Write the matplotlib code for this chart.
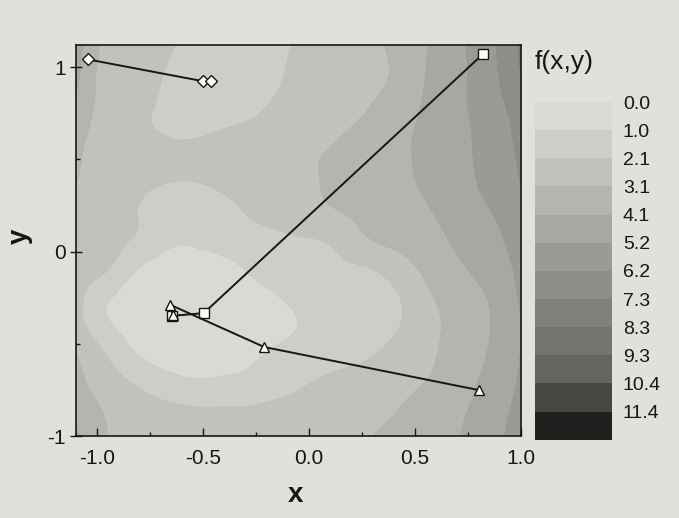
import numpy as np
import matplotlib
matplotlib.use('Agg')
import matplotlib.pyplot as plt
import matplotlib.tri as mtri

plt.rcParams['font.family'] = ['Liberation Sans', 'DejaVu Sans']
plt.rcParams['axes.unicode_minus'] = False

# f(x,y) on a coarse grid (rows = y, columns = x)
x_grid = [-1.1, -0.95, -0.8, -0.65, -0.5, -0.35, -0.2, -0.05, 0.1, 0.25, 0.4, 0.55, 0.7, 0.85, 1.0]
y_grid = [-1.0, -0.85, -0.7, -0.55, -0.4, -0.25, -0.1, 0.05, 0.2, 0.35, 0.5, 0.65, 0.8, 0.95, 1.12]
f_grid = [
    [4.30, 3.10, 2.80, 2.60, 2.50, 2.50, 2.60, 2.75, 2.90, 3.00, 3.35, 3.70, 4.10, 4.75, 5.70],
    [3.85, 2.95, 2.50, 2.25, 2.12, 2.12, 2.25, 2.45, 2.65, 2.85, 3.05, 3.50, 3.95, 4.60, 5.50],
    [3.40, 2.50, 1.85, 1.30, 1.10, 1.20, 1.45, 1.85, 2.25, 2.55, 2.80, 3.10, 3.70, 4.40, 5.30],
    [3.10, 1.95, 0.95, 0.55, 0.55, 0.75, 1.05, 1.35, 1.60, 1.85, 2.35, 2.85, 3.55, 4.20, 5.20],
    [2.50, 1.20, 0.50, 0.10, 0.15, 0.40, 0.70, 1.05, 1.35, 1.60, 1.95, 2.70, 3.45, 4.10, 5.15],
    [2.45, 1.15, 0.55, 0.20, 0.25, 0.50, 0.85, 1.25, 1.50, 1.70, 1.95, 2.85, 3.60, 4.20, 5.30],
    [2.50, 2.05, 0.95, 0.55, 0.60, 0.90, 1.30, 1.60, 1.80, 1.95, 2.45, 3.30, 3.95, 4.55, 5.40],
    [2.65, 2.30, 1.85, 1.15, 1.20, 1.40, 1.65, 1.90, 2.15, 2.85, 3.30, 3.65, 4.30, 4.85, 5.60],
    [2.90, 2.35, 2.05, 1.60, 1.60, 1.90, 2.35, 2.70, 2.95, 3.30, 3.70, 4.00, 4.60, 5.10, 5.90],
    [3.10, 2.55, 2.20, 2.00, 2.03, 2.25, 2.55, 2.90, 3.20, 3.50, 3.85, 4.25, 4.80, 5.40, 6.20],
    [3.25, 2.60, 2.35, 2.25, 2.25, 2.40, 2.65, 2.95, 3.20, 3.55, 3.90, 4.35, 4.90, 5.50, 6.35],
    [3.50, 2.60, 2.20, 2.00, 2.00, 2.20, 2.40, 2.70, 2.95, 3.30, 3.80, 4.35, 4.90, 5.60, 6.50],
    [3.90, 2.65, 2.20, 1.90, 1.60, 1.65, 2.05, 2.45, 2.75, 3.00, 3.50, 4.25, 4.95, 5.75, 6.70],
    [4.40, 2.60, 2.25, 1.95, 1.55, 1.50, 1.80, 2.30, 2.60, 2.90, 3.20, 4.15, 4.95, 5.85, 7.20],
    [4.60, 2.80, 2.40, 2.12, 1.85, 1.75, 1.85, 2.15, 2.50, 2.85, 3.25, 4.05, 4.95, 5.90, 7.40],
]

# search paths
diamond_x = [-1.043, -0.500, -0.465]
diamond_y = [1.042, 0.924, 0.924]
square_x = [0.822, -0.497, -0.646]
square_y = [1.072, -0.333, -0.348]
triangle_x = [0.805, -0.211, -0.655, -0.643]
triangle_y = [-0.751, -0.517, -0.288, -0.342]

cbar_labels = ['0.0', '1.0', '2.1', '3.1', '4.1', '5.2', '6.2', '7.3', '8.3', '9.3', '10.4', '11.4']

band_colors = ['#dbd9d3', '#cfcdc7', '#c3c1bb', '#b6b4ae', '#a9a7a2', '#9c9a95',
               '#8f8d88', '#81807b', '#74736e', '#65645f', '#474643', '#1f1f1e']

ink = '#161616'

fig = plt.figure(figsize=(6.79, 5.18), dpi=100, facecolor='#e1e0db')
ax = fig.add_axes([0.112, 0.158, 0.655, 0.755])

step = 11.4 / 11
levels = np.append(np.linspace(0, 11.4, 12), 11.4 + step)

# smooth the coarse grid with matplotlib's own triangulation refiner
gx, gy = np.meshgrid(x_grid, y_grid)
triang = mtri.Triangulation(gx.ravel(), gy.ravel())
f_flat = np.asarray(f_grid).ravel()
interp = mtri.CubicTriInterpolator(triang, f_flat, kind='min_E')
refiner = mtri.UniformTriRefiner(triang)
tri_fine, f_fine = refiner.refine_field(f_flat, triinterpolator=interp, subdiv=3)
f_fine = np.clip(f_fine, 0.01, None)
cs = ax.tricontourf(tri_fine, f_fine, levels=levels, colors=band_colors)

mk = dict(color=ink, lw=1.4, mfc='white', mec=ink, mew=1.0, zorder=3)
ax.plot(diamond_x, diamond_y, '-D', ms=6, **mk)
ax.plot(square_x, square_y, '-s', ms=6.5, **mk)
ax.plot(triangle_x, triangle_y, '-^', ms=7.5, **mk)

ax.set_xlim(-1.1, 1.0)
ax.set_ylim(-1.0, 1.12)
ax.set_xticks([-1.0, -0.5, 0.0, 0.5, 1.0])
ax.set_xticklabels(['-1.0', '-0.5', '0.0', '0.5', '1.0'])
ax.set_xticks(np.arange(-1.0, 1.01, 0.25), minor=True)
ax.set_yticks([-1, 0, 1])
ax.set_yticklabels(['-1', '0', '1'])
ax.set_yticks([-0.5, 0.5], minor=True)
ax.tick_params(axis='x', which='major', direction='in', length=6, width=1, pad=9,
               labelsize=15, colors=ink)
ax.tick_params(axis='x', which='minor', direction='in', length=3, width=1, colors=ink)
ax.tick_params(axis='y', which='major', direction='inout', length=9, width=1, pad=3,
               labelsize=15, colors=ink)
ax.tick_params(axis='y', which='minor', direction='in', length=3, width=1, colors=ink)
for s in ax.spines.values():
    s.set_linewidth(1.2)
    s.set_color(ink)

fig.text(296 / 679, 1 - 495 / 518, 'x', fontsize=20, fontweight='bold', color=ink,
         ha='center', va='center')
fig.text(20 / 679, 1 - 236 / 518, 'y', fontsize=20, fontweight='bold', color=ink,
         ha='center', va='center', rotation=90)

cax = fig.add_axes([0.788, 0.151, 0.113, 0.652])
cb = fig.colorbar(cs, cax=cax, ticks=levels[:-1])
cb.set_ticklabels(cbar_labels)
cb.outline.set_visible(False)
cax.invert_yaxis()
cax.tick_params(length=0, pad=8, labelsize=14, colors=ink)
fig.text(0.788, 0.88, 'f(x,y)', fontsize=19, color=ink, ha='left', va='center')

fig.savefig('out.png', dpi=100, facecolor=fig.get_facecolor())
